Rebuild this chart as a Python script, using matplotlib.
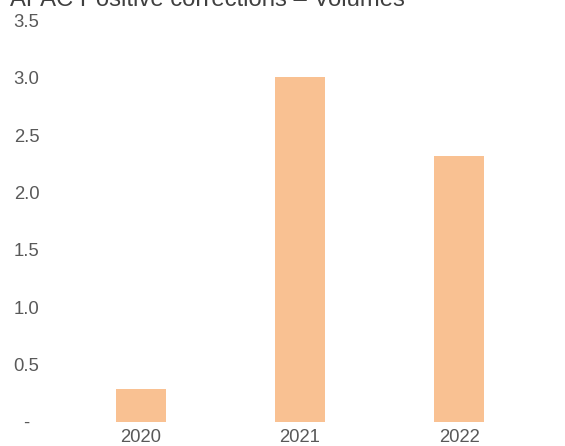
import matplotlib
matplotlib.use("Agg")
import matplotlib.pyplot as plt

years = ["2020", "2021", "2022"]
volumes = [0.28, 3.01, 2.32]
y_ticks = [0.0, 0.5, 1.0, 1.5, 2.0, 2.5, 3.0, 3.5]
y_tick_labels = ["-", "0.5", "1.0", "1.5", "2.0", "2.5", "3.0", "3.5"]

plt.rcParams["font.family"] = ["Liberation Sans", "DejaVu Sans"]

fig = plt.figure(figsize=(5.65, 4.46), dpi=100)
W, H = 565, 446
# axes box in pixels: left 61, width 478; data 0 at y=421.5, 3.5 at y=20.75
ax = fig.add_axes([61.1 / W, (H - 421.5) / H, 477.6 / W, 400.75 / H])

x = range(len(years))
ax.bar(x, volumes, width=0.314, color="#F9C192", edgecolor="none")

ax.set_xlim(-0.5, 2.5)
ax.set_ylim(0, 3.5)
ax.set_xticks(list(x))
ax.set_xticklabels(years, fontsize=13.3, color="#595959")
ax.set_yticks(y_ticks)
ax.set_yticklabels(y_tick_labels, fontsize=13.3, color="#595959", ha="center")
ax.tick_params(axis="both", length=0)
ax.tick_params(axis="x", pad=5.5)
ax.tick_params(axis="y", pad=24.9)
for s in ax.spines.values():
    s.set_visible(False)

fig.text(10 / W, 1 - 5.5 / H, "APAC Positive corrections \u2013 Volumes",
         fontsize=17.2, color="#404040", ha="left", va="baseline")

fig.savefig("out.png", dpi=100)
